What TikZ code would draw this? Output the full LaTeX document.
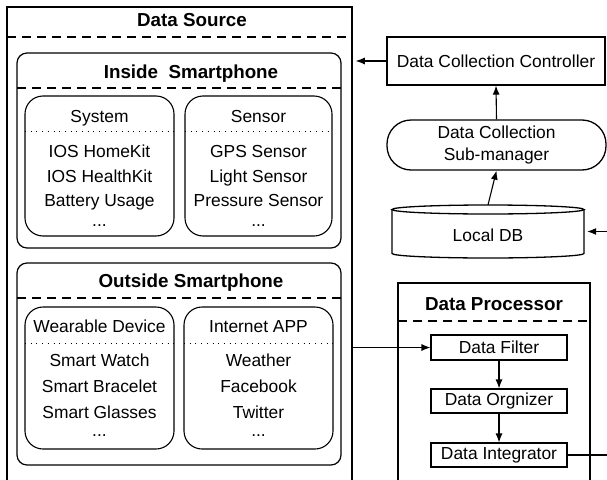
\documentclass[tikz,border=0pt]{standalone}
\usepackage{fontspec}
\setmainfont{Liberation Sans}
\usetikzlibrary{arrows.meta}
\begin{document}
\begin{tikzpicture}[x=1pt,y=-1pt,
  txt/.style={inner sep=0pt, anchor=base, font=\fontsize{17.4}{20}\selectfont},
  ttl/.style={inner sep=0pt, anchor=base, font=\fontsize{18.8}{21}\selectfont\bfseries},
  sqbox/.style={draw, line width=1.5pt, inner sep=0pt},
  rbox/.style={draw, line width=1.2pt, rounded corners=10pt, inner sep=0pt},
  ibox/.style={draw, line width=1.1pt, rounded corners=18pt, inner sep=0pt},
  sbox/.style={draw, line width=1.1pt, inner sep=0pt, font=\fontsize{17.4}{22}\selectfont, align=center},
  dsh/.style={line width=1.3pt, dash pattern=on 9pt off 6pt},
  dotl/.style={line width=1pt, dash pattern=on 1pt off 4.7pt},
  arr/.style={line width=1.1pt, -{Latex[length=9pt,width=7pt]}},
  conn/.style={line width=1.1pt}
]
\useasboundingbox (0,0) rectangle (607,479);
\fill[white] (0,0) rectangle (607,479);

% ---------- Data Source ----------
\node[sqbox, minimum width=345pt, minimum height=500pt] (ds) at (179.5,257) {};
\node[ttl] (dst) at (192,27) {Data Source};
\draw[dsh] (7,37) -- (352,37);

% Inside Smartphone
\node[rbox, minimum width=324pt, minimum height=195pt] (ins) at (179,150.5) {};
\node[ttl] (inst) at (191,78) {Inside\hspace{0.55em}Smartphone};
\draw[dsh] (17,88) -- (341,88);

\node[ibox, minimum width=149pt, minimum height=140pt] (sys) at (99.5,166) {};
\node[txt] (syst) at (99.5,122) {System};
\draw[dotl] (25,131) -- (174,131);
\node[txt] (s1) at (99.5,157) {IOS HomeKit};
\node[txt] (s2) at (99.5,182) {IOS HealthKit};
\node[txt] (s3) at (99.5,206) {Battery Usage};
\node[txt] (s4) at (99.5,226) {...};

\node[ibox, minimum width=147pt, minimum height=140pt] (sen) at (258.5,166) {};
\node[txt] (sent) at (258.5,122) {Sensor};
\draw[dotl] (185,131) -- (332,131);
\node[txt] (e1) at (258.5,157) {GPS Sensor};
\node[txt] (e2) at (258.5,182) {Light Sensor};
\node[txt] (e3) at (258.5,206) {Pressure Sensor};
\node[txt] (e4) at (258.5,226) {...};

% Outside Smartphone
\node[rbox, minimum width=324pt, minimum height=202pt] (outs) at (179,364) {};
\node[ttl] (outt) at (191,287) {Outside Smartphone};
\draw[dsh] (17,298) -- (341,298);

\node[ibox, minimum width=149pt, minimum height=142pt] (wear) at (99.5,378) {};
\node[txt] (weart) at (99.5,332) {Wearable Device};
\draw[dotl] (25,343) -- (174,343);
\node[txt] (w1) at (99.5,366) {Smart Watch};
\node[txt] (w2) at (99.5,392) {Smart Bracelet};
\node[txt] (w3) at (99.5,418) {Smart Glasses};
\node[txt] (w4) at (99.5,436) {...};

\node[ibox, minimum width=149pt, minimum height=142pt] (app) at (258.5,378) {};
\node[txt] (appt) at (258.5,332) {Internet APP};
\draw[dotl] (184,343) -- (333,343);
\node[txt] (a1) at (258.5,366) {Weather};
\node[txt] (a2) at (258.5,392) {Facebook};
\node[txt] (a3) at (258.5,418) {Twitter};
\node[txt] (a4) at (258.5,436) {...};

% ---------- Right column ----------
\node[sbox, line width=1.3pt, minimum width=218pt, minimum height=48pt] (ctrl) at (496,61) {Data Collection Controller};
\node[sbox, line width=1.3pt, rounded corners=24pt, minimum width=219pt, minimum height=50pt] (sub) at (496.5,145) {Data Collection\\Sub-manager};

% Local DB (cylinder)
\node[inner sep=0pt, minimum width=192pt, minimum height=53pt] (db) at (488,231.5) {};
\draw[line width=1.3pt] (488,209.5) ellipse [x radius=96pt, y radius=4.5pt];
\draw[line width=1.3pt] (392,209.5) -- (392,253.5)
  arc[start angle=180, end angle=360, x radius=96pt, y radius=4.5pt] -- (584,209.5);
\node[txt] (dbt) at (488,241) {Local DB};

% Data Processor
\node[sqbox, minimum width=192pt, minimum height=227pt] (dp) at (494,396.5) {};
\node[ttl] (dpt) at (494,310) {Data Processor};
\draw[dsh] (398,321) -- (590,321);

\node[sbox, minimum width=136pt, minimum height=25pt] (filter) at (499,347.5) {Data Filter};
\node[sbox, minimum width=136pt, minimum height=24pt] (org) at (499,401) {Data Orgnizer};
\node[sbox, minimum width=136pt, minimum height=24pt] (integ) at (499,455) {Data Integrator};

% ---------- Connectors ----------
\draw[arr, shorten >=3pt] (ctrl.west) -- (ctrl.west -| ds.east);
\draw[arr] (sub.north) -- (ctrl.south);
\draw[arr] (db.north) -- (sub.south);
\draw[arr] (filter.west -| ds.east) -- (filter.west);
\draw[arr] (filter.south) -- (org.north);
\draw[arr] (org.south) -- (integ.north);
\coordinate (c1) at (620,455);
\draw[arr, shorten >=3pt] (integ.east) -- (c1) -- (c1 |- db.east) -- (db.east);
\end{tikzpicture}
\end{document}
